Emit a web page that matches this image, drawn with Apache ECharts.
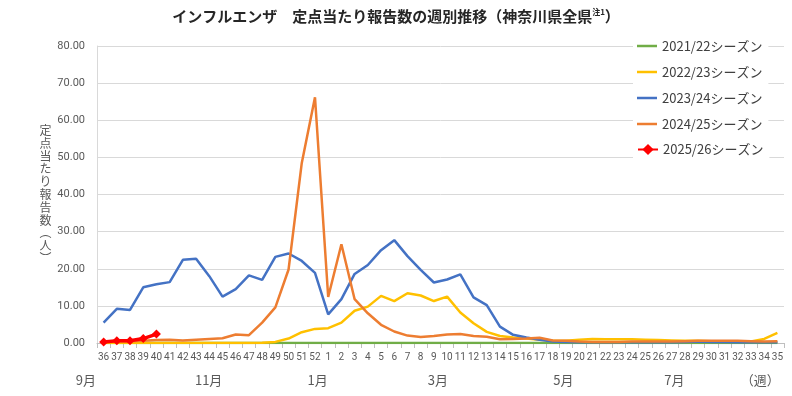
<!DOCTYPE html>
<html>
<head>
<meta charset="utf-8">
<script src="https://cdn.jsdelivr.net/npm/echarts@6/dist/echarts.min.js"></script>
<style>
  html, body { margin: 0; padding: 0; background: #ffffff; }
  #main { width: 792px; height: 396px; }
</style>
</head>
<body>
<div id="main"></div>
<script>
// 週番号（36週〜翌年35週）
var weeks = ['36','37','38','39','40','41','42','43','44','45','46','47','48','49','50','51','52',
  '1','2','3','4','5','6','7','8','9','10','11','12','13','14','15','16','17','18','19','20',
  '21','22','23','24','25','26','27','28','29','30','31','32','33','34','35']

var yTicks = [0, 10, 20, 30, 40, 50, 60, 70, 80]

// 月ラベル（カテゴリ位置）
var monthLabels = ['9月', '11月', '1月', '3月', '5月', '7月', '（週）']
var monthPos = [-1.35, 7.95, 16.2, 25.3, 34.8, 43.2, 49.7]

var s2122 = [0.0,0.0,0.0,0.0,0.0,0.0,0.0,0.0,0.0,0.0,0.0,0.0,0.0,0.0,0.0,0.0,0.0,
  0.0,0.0,0.0,0.0,0.0,0.0,0.0,0.0,0.0,0.0,0.0,0.0,0.0,0.0,0.0,0.0,0.0,0.0,0.0,0.0,
  0.0,0.0,0.0,0.0,0.0,0.0,0.0,0.0,0.0,0.0,0.0,0.0,0.0,0.0,0.0]

var s2223 = [0.0,0.0,0.0,0.0,0.0,0.0,0.0,0.0,0.0,0.0,0.0,0.0,0.1,0.3,1.2,2.9,3.8,
  4.0,5.5,8.7,9.8,12.7,11.3,13.4,12.8,11.3,12.5,8.2,5.3,3.0,1.9,1.5,1.2,0.9,0.6,0.6,0.9,
  1.1,1.0,1.0,1.0,0.9,0.8,0.7,0.6,0.6,0.5,0.5,0.5,0.4,1.1,2.7]

var s2324 = [5.5,9.2,8.9,15.0,15.8,16.4,22.4,22.7,18.0,12.5,14.5,18.2,17.0,23.2,24.1,22.1,18.9,
  7.7,11.8,18.6,21.0,25.0,27.7,23.4,19.7,16.3,17.1,18.5,12.3,10.2,4.4,2.2,1.5,0.9,0.4,0.3,0.2,
  0.2,0.2,0.2,0.2,0.2,0.2,0.2,0.3,0.4,0.3,0.3,0.2,0.2,0.2,0.2]

var s2425 = [0.4,0.5,0.5,0.6,0.8,0.9,0.7,0.9,1.1,1.3,2.3,2.1,5.5,9.6,19.8,48.5,66.2,
  12.4,26.6,11.8,8.0,4.9,3.1,2.0,1.6,1.9,2.3,2.4,1.9,1.7,1.0,1.1,1.2,1.4,0.7,0.6,0.4,
  0.3,0.3,0.3,0.4,0.4,0.4,0.4,0.5,0.6,0.6,0.6,0.6,0.5,0.4,0.5]

var s2526 = [0.3,0.6,0.6,1.2,2.4]

var seriesNames = ['2021/22シーズン', '2022/23シーズン', '2023/24シーズン', '2024/25シーズン', '2025/26シーズン']
var seriesColors = ['#70AD47', '#FFC000', '#4472C4', '#ED7D31', '#FF0000']

var jp = '"Noto Sans CJK JP", sans-serif'
var txt = '#595959'

var myChart = echarts.init(document.getElementById('main'))

function lineSeries(i, data) {
  return {
    name: seriesNames[i],
    type: 'line',
    data: data,
    symbol: 'none',
    smooth: false,
    lineStyle: { color: seriesColors[i], width: 2.5 },
    itemStyle: { color: seriesColors[i] },
    emphasis: { disabled: true }
  }
}

var series = [
  lineSeries(0, s2122),
  lineSeries(1, s2223),
  lineSeries(2, s2324),
  lineSeries(3, s2425),
  {
    name: seriesNames[4],
    type: 'line',
    data: s2526,
    symbol: 'diamond',
    symbolSize: 9,
    showSymbol: true,
    lineStyle: { color: seriesColors[4], width: 3.5 },
    itemStyle: { color: seriesColors[4] },
    emphasis: { disabled: true }
  }
]

var legendText = { fontFamily: jp, fontSize: 13, color: '#404040' }

var option = {
  animation: false,
  backgroundColor: '#ffffff',
  title: {
    left: 'center',
    top: 3,
    text: '{a|インフルエンザ　定点当たり報告数の週別推移（神奈川県全県}{s|注1}{a|）}',
    textStyle: {
      rich: {
        a: { fontFamily: jp, fontSize: 15, fontWeight: 'bold', color: '#262626' },
        s: { fontFamily: jp, fontSize: 8, color: '#262626', padding: [0, 0, 8, 0] }
      }
    }
  },
  legend: [
    {
      // 線のみの系列
      orient: 'vertical',
      left: 633,
      top: 36.5,
      backgroundColor: '#ffffff',
      padding: [3, 6, 0, 4],
      icon: 'rect',
      itemWidth: 20,
      itemHeight: 2.5,
      itemGap: 13,
      data: seriesNames.slice(0, 4),
      textStyle: legendText
    },
    {
      // マーカー付き系列
      orient: 'vertical',
      left: 633,
      top: 130.5,
      backgroundColor: '#ffffff',
      padding: [12.5, 6, 5, 4],
      itemWidth: 20,
      itemHeight: 14,
      data: seriesNames.slice(4),
      textStyle: legendText
    }
  ],
  grid: { left: 97, right: 8, top: 46, bottom: 53 },
  xAxis: {
    type: 'category',
    data: weeks,
    boundaryGap: true,
    axisLine: { lineStyle: { color: '#BFBFBF', width: 1 } },
    axisTick: { show: true, interval: 0, length: 5, lineStyle: { color: '#BFBFBF' } },
    axisLabel: { interval: 0, margin: 9, fontFamily: 'Roboto', fontSize: 10, color: txt }
  },
  yAxis: {
    type: 'value',
    min: yTicks[0],
    max: yTicks[yTicks.length - 1],
    interval: 10,
    name: '定\n点\n当\nた\nり\n報\n告\n数\n︵\n人\n︶',
    nameLocation: 'middle',
    nameGap: 39,
    nameRotate: 0,
    nameTextStyle: { fontFamily: jp, fontSize: 12, color: txt, lineHeight: 12.8 },
    axisLine: { show: true, lineStyle: { color: '#D9D9D9' } },
    axisTick: { show: false },
    splitLine: { lineStyle: { color: '#D9D9D9', width: 1 } },
    axisLabel: {
      margin: 12,
      fontFamily: 'Roboto',
      fontSize: 11,
      color: txt,
      formatter: function (v) { return v.toFixed(2) }
    }
  },
  series: series
}

myChart.setOption(option)

// 月ラベルをカテゴリ軸の位置から配置
var p0 = myChart.convertToPixel({ xAxisIndex: 0 }, weeks[0])
var p1 = myChart.convertToPixel({ xAxisIndex: 0 }, weeks[1])
var step = p1 - p0
var graphics = []
for (var i = 0; i < monthLabels.length; i++) {
  graphics.push({
    type: 'text',
    x: p0 + monthPos[i] * step,
    y: 380,
    style: {
      text: monthLabels[i],
      fontFamily: jp,
      fontSize: 13,
      fill: txt,
      textAlign: 'center',
      textVerticalAlign: 'middle'
    }
  })
}
myChart.setOption({ graphic: graphics })
</script>
</body>
</html>
